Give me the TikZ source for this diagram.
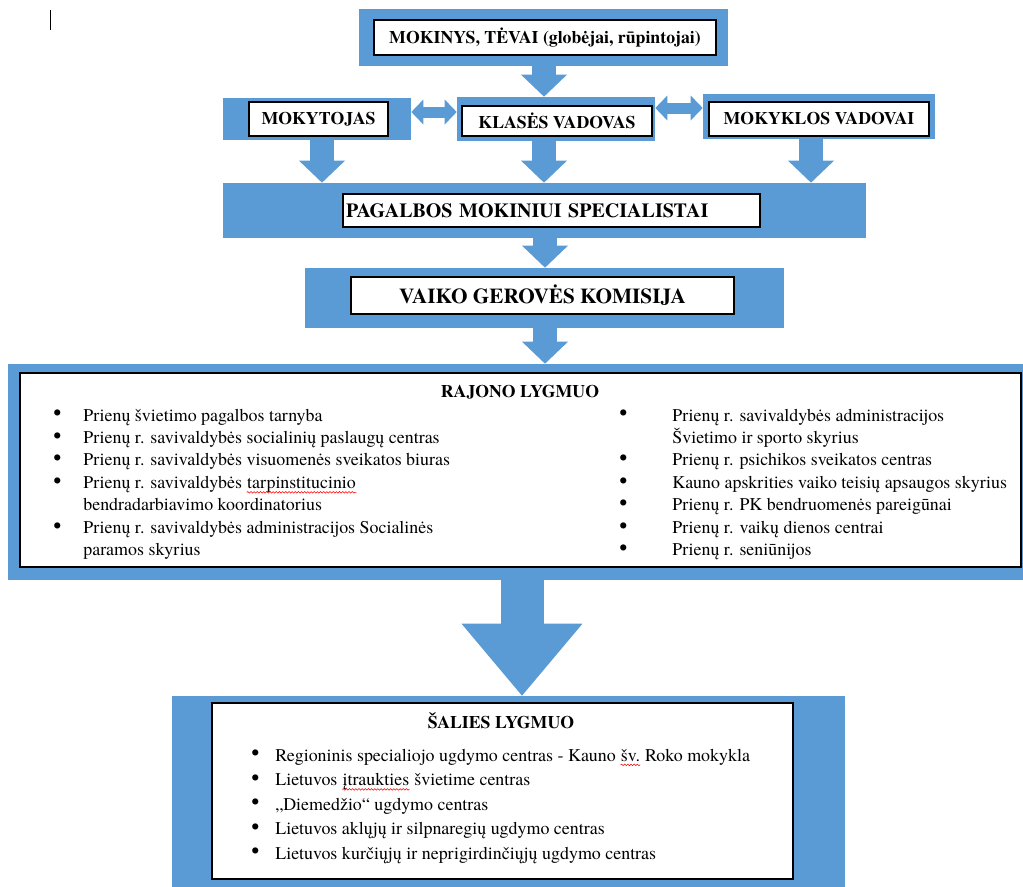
\documentclass[tikz,border=0pt]{standalone}
\usepackage{fontspec}
\setmainfont{texgyretermes}[Extension=.otf, UprightFont=*-regular, BoldFont=*-bold, ItalicFont=*-italic, BoldItalicFont=*-bolditalic]
\usetikzlibrary{arrows.meta,decorations.pathmorphing}

\definecolor{melyna}{HTML}{5B9BD5}
% raudona banguota linija po zodziu
\newcommand{\klaida}[1]{\tikz[baseline=(zodis.base), x=1cm, y=1cm]{%
    \node[inner sep=0pt, draw=none, fill=none] (zodis) {#1};
    \draw[red, line width=0.3pt, decorate, decoration={snake, amplitude=0.45pt, segment length=1.8pt}]
        ([yshift=-2.2pt]zodis.base west) -- ([yshift=-2.2pt]zodis.base east);}}
% didesnis taskas sarasui
\newcommand{\tsk}{\raisebox{0.05ex}{\fontsize{13}{13}\selectfont •}}

\tikzset{
    melynas/.style={fill=melyna, inner sep=0pt},
    baltas/.style={fill=white, draw=black, line width=0.8pt, inner sep=0pt, font=\fontsize{10.1}{12}\selectfont\bfseries},
    didelis/.style={font=\fontsize{12.1}{14}\selectfont\bfseries},
    rodykle/.style={draw=melyna, line width=0.47cm, -{Triangle[width=0.92cm,length=0.44cm,line width=0pt]}},
    didrodykle/.style={draw=melyna, line width=0.86cm, -{Triangle[width=2.42cm,length=1.44cm,line width=0pt]}},
    dvipuse/.style={draw=melyna, line width=0.22cm, {Triangle[width=0.5cm,length=0.24cm,line width=0pt]}-{Triangle[width=0.5cm,length=0.24cm,line width=0pt]}},
    sarasas/.style={inner sep=0pt, anchor=base west, font=\fontsize{10.2}{12.8}\selectfont},
    antraste/.style={inner sep=0pt, anchor=base, font=\fontsize{10.1}{12}\selectfont\bfseries}
}

\begin{document}
\begin{tikzpicture}[x=0.02cm, y=-0.02cm]
    \clip (0,0) rectangle (1023,886);
    
    \draw[line width=0.5pt] (50,10) -- (50,30);
    
    % virsutine dalis
    \node[melynas, minimum width=7.38cm, minimum height=1.14cm] (mokinys) at (543.5,37.5) {};
    \node[baltas, minimum width=6.84cm, minimum height=0.70cm] (mokinysT) at (545,37.5) {MOKINYS, TĖVAI (globėjai, rūpintojai)};
    
    \node[melynas, minimum width=3.76cm, minimum height=0.84cm] (mokytojas) at (317,119) {};
    \node[baltas, minimum width=2.78cm, minimum height=0.68cm] (mokytojasT) at (318.5,119) {MOKYTOJAS};
    
    \node[melynas, minimum width=3.96cm, minimum height=0.88cm] (klase) at (556,119) {};
    \node[baltas, minimum width=3.80cm, minimum height=0.60cm] (klaseT) at (557,121) {KLASĖS VADOVAS};
    
    \node[melynas, minimum width=4.64cm, minimum height=0.90cm] (vadovai) at (819,116.5) {};
    \node[baltas, minimum width=4.40cm, minimum height=0.68cm] (vadovaiT) at (819,119) {MOKYKLOS VADOVAI};
    
    \node[melynas, minimum width=12.86cm, minimum height=1.10cm] (pagalba) at (544.5,210.5) {};
    \node[baltas, font=\fontsize{11.4}{14}\selectfont\bfseries, minimum height=0.66cm, text width=8.22cm, inner xsep=0.06cm, align=left] (pagalbaT) at (551.5,210.5) {PAGALBOS MOKINIUI SPECIALISTAI};
    
    \node[melynas, minimum width=9.58cm, minimum height=1.20cm] (komisija) at (544.5,298) {};
    \node[baltas, didelis, minimum width=7.66cm, minimum height=0.74cm] (komisijaT) at (542.5,295.5) {VAIKO GEROVĖS KOMISIJA};
    
    % rajono lygmuo
    \node[melynas, minimum width=20.64cm, minimum height=4.32cm] (rajonas) at (524,472) {};
    \node[baltas, minimum width=20.02cm, minimum height=3.88cm] (rajonasT) at (520.5,470) {};
    \node[antraste] (rajPav) at (520,397) {RAJONO LYGMUO};
    \node[sarasas] (rajKaire) at (53,421) {\begin{tabular}[t]{@{}p{0.6cm}@{}l@{}}
        \tsk & Prienų švietimo pagalbos tarnyba\\
        \tsk & Prienų r. savivaldybės socialinių paslaugų centras\\
        \tsk & Prienų r. savivaldybės visuomenės sveikatos biuras\\
        \tsk & Prienų r. savivaldybės \klaida{tarpinstitucinio}\\
             & bendradarbiavimo koordinatorius\\
        \tsk & Prienų r. savivaldybės administracijos Socialinės\\
             & paramos skyrius
    \end{tabular}};
    \node[sarasas] (rajDesine) at (619,421) {\begin{tabular}[t]{@{}p{1.06cm}@{}l@{}}
        \tsk & Prienų r. savivaldybės administracijos\\
             & Švietimo ir sporto skyrius\\
        \tsk & Prienų r. psichikos sveikatos centras\\
        \tsk & Kauno apskrities vaiko teisių apsaugos skyrius\\
        \tsk & Prienų r. PK bendruomenės pareigūnai\\
        \tsk & Prienų r. vaikų dienos centrai\\
        \tsk & Prienų r. seniūnijos
    \end{tabular}};
    
    % salies lygmuo
    \node[melynas, minimum width=13.46cm, minimum height=4.08cm] (salis) at (508.5,798) {};
    \node[baltas, minimum width=11.62cm, minimum height=3.52cm] (salisT) at (502.5,791) {};
    \node[antraste] (salPav) at (501,728) {ŠALIES LYGMUO};
    \node[sarasas, font=\fontsize{10.2}{13.95}\selectfont] (salSarasas) at (251,761) {\begin{tabular}[t]{@{}p{0.48cm}@{}l@{}}
        \tsk & Regioninis specialiojo ugdymo centras - Kauno \klaida{šv.} Roko mokykla\\
        \tsk & Lietuvos \klaida{įtraukties} švietime centras\\
        \tsk & „Diemedžio“ ugdymo centras\\
        \tsk & Lietuvos aklųjų ir silpnaregių ugdymo centras\\
        \tsk & Lietuvos kurčiųjų ir neprigirdinčiųjų ugdymo centras
    \end{tabular}};
    
    % rodykles
    \draw[rodykle] (544,0 |- mokinys.south) -- (544,0 |- klase.north);
    \draw[dvipuse] (mokytojas.east |- 0,112) -- (klase.west |- 0,112);
    \draw[dvipuse] (klase.east |- 0,108) -- (vadovai.west |- 0,108);
    \draw[rodykle] (322,0 |- mokytojas.south) -- (322,0 |- pagalba.north);
    \draw[rodykle] (544,0 |- klase.south) -- (544,0 |- pagalba.north);
    \draw[rodykle] (811,0 |- vadovai.south) -- (811,0 |- pagalba.north);
    \draw[rodykle] (545,0 |- pagalba.south) -- (545,0 |- komisija.north);
    \draw[rodykle] (545,0 |- komisija.south) -- (545,0 |- rajonas.north);
    \draw[didrodykle] (522,0 |- rajonas.south) -- (522,0 |- salis.north);
    
\end{tikzpicture}
\end{document}
